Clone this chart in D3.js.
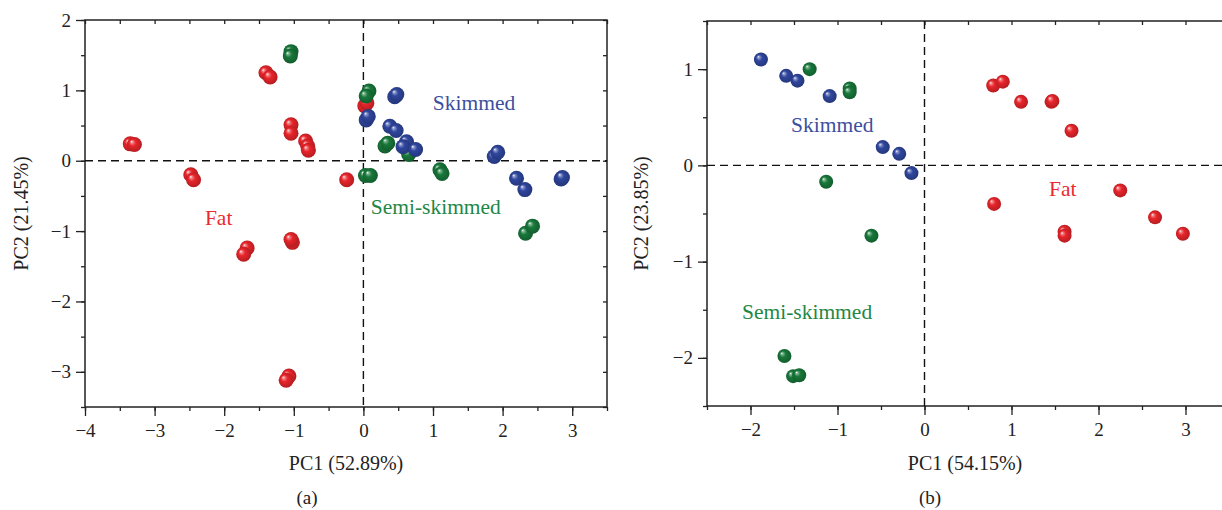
<!DOCTYPE html>
<html>
<head>
<meta charset="utf-8">
<script src="https://cdn.jsdelivr.net/npm/d3@7"></script>
<style>
  body { margin: 0; background: #fff; }
  svg { display: block; font-family: "Liberation Serif", "DejaVu Serif", serif; }
</style>
</head>
<body>
<svg id="chart" width="1222" height="510"></svg>
<script>
// panel (a) scores
const aFat = [[-3.35,0.24],[-3.29,0.23],[-2.48,-0.20],[-2.44,-0.27],[-1.40,1.25],[-1.34,1.19],
  [-1.04,0.51],[-1.04,0.39],[-0.83,0.28],[-0.80,0.21],[-0.79,0.15],[-0.24,-0.27],[0.02,0.78],[0.05,0.82],
  [-1.67,-1.24],[-1.72,-1.33],[-1.02,-1.16],[-1.04,-1.12],[-1.07,-3.06],[-1.11,-3.12]]
const aSemi = [[-1.04,1.55],[-1.05,1.49],[0.08,0.99],[0.04,0.92],[0.03,-0.21],[0.10,-0.21],[0.31,0.21],
  [0.35,0.25],[0.65,0.09],[1.10,-0.13],[1.13,-0.18],[2.33,-1.03],[2.43,-0.93]]
const aSkim = [[0.04,0.58],[0.07,0.63],[0.45,0.91],[0.48,0.94],[0.38,0.49],[0.47,0.43],[0.62,0.27],
  [0.57,0.20],[0.75,0.16],[1.88,0.06],[1.93,0.12],[2.20,-0.25],[2.32,-0.41],[2.84,-0.26],[2.86,-0.24]]

// panel (b) scores
const bFat = [[0.79,0.83],[0.90,0.87],[1.11,0.66],[1.46,0.66],[1.47,0.67],[1.69,0.36],[0.80,-0.40],
  [2.25,-0.26],[1.61,-0.69],[1.61,-0.73],[2.65,-0.54],[2.97,-0.71]]
const bSemi = [[-1.32,1.00],[-0.86,0.80],[-0.86,0.76],[-1.13,-0.17],[-0.61,-0.73],[-1.61,-1.98],
  [-1.51,-2.19],[-1.44,-2.18]]
const bSkim = [[-1.88,1.10],[-1.59,0.93],[-1.46,0.88],[-1.09,0.72],[-0.48,0.19],[-0.29,0.12],[-0.15,-0.08]]

const aXTicks = [-4,-3,-2,-1,0,1,2,3]
const aYTicks = [-3,-2,-1,0,1,2]
const bXTicks = [-2,-1,0,1,2,3]
const bYTicks = [-2,-1,0,1]

const colors = {fat: "#e8252b", semi: "#18783a", skim: "#2f469e"}
const labelColors = {fat: "#ea2a30", semi: "#1f8745", skim: "#3c4f9e"}

const svg = d3.select("#chart")

// sphere shading
const defs = svg.append("defs")
Object.entries(colors).forEach(([k, c]) => {
  const g = defs.append("radialGradient").attr("id", "ball-" + k)
    .attr("cx", "50%").attr("cy", "50%").attr("r", "55%")
    .attr("fx", "30%").attr("fy", "30%")
  g.append("stop").attr("offset", "0%").attr("stop-color", "#fff")
  g.append("stop").attr("offset", "14%").attr("stop-color", d3.interpolateRgb("#fff", c)(0.55))
  g.append("stop").attr("offset", "40%").attr("stop-color", c)
  g.append("stop").attr("offset", "100%").attr("stop-color", d3.color(c).darker(0.8))
})

function halves(dom) {
  const out = []
  for (let v = Math.ceil(dom[0] * 2) / 2; v <= dom[1] + 1e-9; v += 0.5) out.push(+v.toFixed(1))
  return out
}

const fmt = d3.format("d")

function panel(opt) {
  const x = d3.scaleLinear().domain(opt.xDom).range(opt.xRange)
  const y = d3.scaleLinear().domain(opt.yDom).range(opt.yRange)
  const [x0, x1] = opt.xRange
  const [y0, y1] = opt.yRange
  const g = svg.append("g")
  const axisStyle = sel => {
    sel.attr("font-family", null).attr("font-size", null)
    sel.select(".domain").remove()
    sel.selectAll("line").attr("stroke", "#222").attr("stroke-width", 1.3)
    sel.selectAll("text").attr("fill", "#222").style("font-size", "19px")
  }

  // minor + major bottom
  g.append("g").attr("transform", `translate(0,${y0})`)
    .call(d3.axisBottom(x).tickValues(halves(opt.xDom)).tickSize(4).tickFormat(""))
    .call(axisStyle)
  g.append("g").attr("transform", `translate(0,${y0})`)
    .call(d3.axisBottom(x).tickValues(opt.xTicks).tickSize(9).tickPadding(8).tickFormat(fmt))
    .call(axisStyle)
  // left
  g.append("g").attr("transform", `translate(${x0},0)`)
    .call(d3.axisLeft(y).tickValues(halves(opt.yDom)).tickSize(4).tickFormat(""))
    .call(axisStyle)
  g.append("g").attr("transform", `translate(${x0},0)`)
    .call(d3.axisLeft(y).tickValues(opt.yTicks).tickSize(9).tickPadding(5).tickFormat(fmt))
    .call(axisStyle)
  // top and right, inward
  g.append("g").attr("transform", `translate(0,${y1})`)
    .call(d3.axisTop(x).tickValues(halves(opt.xDom)).tickSize(-4).tickFormat(""))
    .call(axisStyle)
  g.append("g").attr("transform", `translate(${x1},0)`)
    .call(d3.axisRight(y).tickValues(halves(opt.yDom)).tickSize(-4).tickFormat(""))
    .call(axisStyle)

  g.append("rect").attr("x", x0).attr("y", y1).attr("width", x1 - x0).attr("height", y0 - y1)
    .attr("fill", "none").attr("stroke", "#222").attr("stroke-width", 1.5)

  // zero lines
  g.append("line").attr("x1", x0).attr("x2", x1).attr("y1", y(0)).attr("y2", y(0))
    .attr("stroke", "#111").attr("stroke-width", 1.4).attr("stroke-dasharray", "8,5")
  g.append("line").attr("x1", x(0)).attr("x2", x(0)).attr("y1", y1).attr("y2", y0)
    .attr("stroke", "#111").attr("stroke-width", 1.4).attr("stroke-dasharray", "8,5")

  // points
  opt.groups.forEach(([key, data]) => {
    g.append("g").selectAll("circle").data(data).join("circle")
      .attr("cx", d => x(d[0])).attr("cy", d => y(d[1])).attr("r", opt.r)
      .attr("fill", `url(#ball-${key})`)
  })

  // group labels
  opt.labels.forEach(l => {
    g.append("text").attr("x", x(l.x)).attr("y", y(l.y)).attr("text-anchor", "middle")
      .attr("fill", labelColors[l.key]).style("font-size", "21.5px").text(l.text)
  })

  // titles
  g.append("text").attr("x", opt.titleX).attr("y", 470).attr("text-anchor", "middle")
    .attr("fill", "#222").style("font-size", "20px").text(opt.xTitle)
  g.append("text").attr("transform", `translate(${opt.yTitleX},${(y0 + y1) / 2}) rotate(-90)`)
    .attr("text-anchor", "middle").attr("fill", "#222").style("font-size", "20px").text(opt.yTitle)
  g.append("text").attr("x", opt.tagX).attr("y", 504).attr("text-anchor", "middle")
    .attr("fill", "#222").style("font-size", "19px").text(opt.tag)
}

panel({
  xDom: [-4, 3.5], yDom: [-3.5, 2], xRange: [85, 607], yRange: [407, 20],
  xTicks: aXTicks, yTicks: aYTicks, r: 7.5,
  groups: [["fat", aFat], ["semi", aSemi], ["skim", aSkim]],
  labels: [
    {key: "skim", text: "Skimmed", x: 1.59, y: 0.72},
    {key: "semi", text: "Semi-skimmed", x: 1.04, y: -0.75},
    {key: "fat", text: "Fat", x: -2.08, y: -0.91}
  ],
  xTitle: "PC1 (52.89%)", yTitle: "PC2 (21.45%)", tag: "(a)", titleX: 346, tagX: 307, yTitleX: 28
})

panel({
  xDom: [-2.5, 3.5], yDom: [-2.5, 1.5], xRange: [707, 1229], yRange: [406, 21],
  xTicks: bXTicks, yTicks: bYTicks, r: 7,
  groups: [["fat", bFat], ["semi", bSemi], ["skim", bSkim]],
  labels: [
    {key: "skim", text: "Skimmed", x: -1.06, y: 0.35},
    {key: "semi", text: "Semi-skimmed", x: -1.35, y: -1.60},
    {key: "fat", text: "Fat", x: 1.59, y: -0.32}
  ],
  xTitle: "PC1 (54.15%)", yTitle: "PC2 (23.85%)", tag: "(b)", titleX: 965, tagX: 930, yTitleX: 648
})
</script>
</body>
</html>
